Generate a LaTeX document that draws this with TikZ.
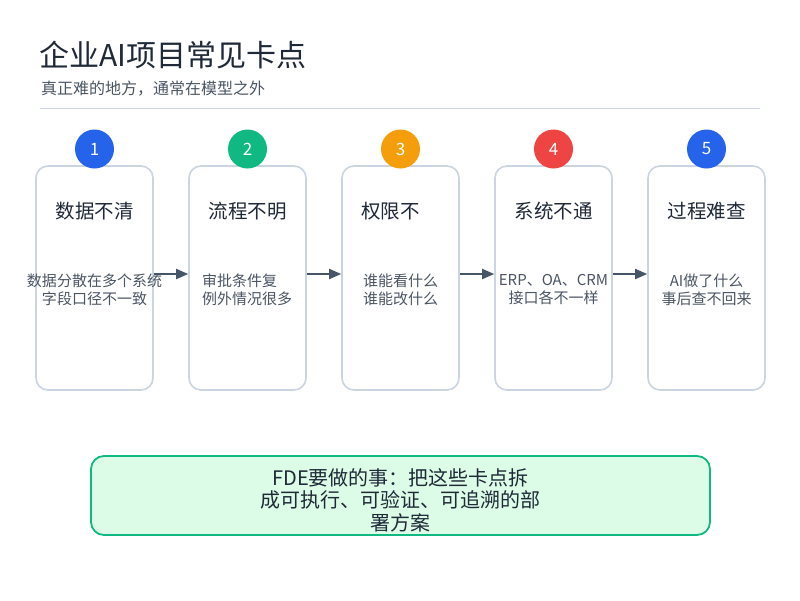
\documentclass[tikz,border=0pt]{standalone}
\usepackage{fontspec}
\setmainfont{Noto Sans CJK SC}
\usetikzlibrary{arrows.meta}
\definecolor{ink}{HTML}{1F2937}
\definecolor{sub}{HTML}{4B5563}
\definecolor{rulec}{HTML}{CBD5E1}
\definecolor{arrc}{HTML}{475569}
\definecolor{cblue}{HTML}{2563EB}
\definecolor{cgreen}{HTML}{10B981}
\definecolor{corange}{HTML}{F59E0B}
\definecolor{cred}{HTML}{EF4444}
\definecolor{notefill}{HTML}{DCFCE7}
\tikzset{
  card/.style={draw=rulec, line width=1.6pt, rounded corners=12pt, fill=white,
    minimum width=117pt, minimum height=224pt, inner sep=0pt},
  badge/.style={circle, minimum size=39pt, inner sep=0pt, text=white,
    font=\fontsize{17}{20}\selectfont},
  ctitle/.style={text=ink, font=\fontsize{19.5}{22}\selectfont, inner sep=0pt},
  desc/.style={text=sub, font=\fontsize{15}{18}\selectfont, align=center, inner sep=0pt},
  arr/.style={draw=arrc, line width=1.8pt, -{Triangle[length=12pt,width=10pt]}},
  note/.style={draw=cgreen, fill=notefill, line width=1.8pt, rounded corners=13pt,
    minimum width=619pt, minimum height=79pt, inner sep=0pt},
  notetext/.style={align=center, text=ink, font=\fontsize{20}{22.5}\selectfont, inner sep=0pt},
}
\begin{document}
\begin{tikzpicture}[x=1pt,y=-1pt]
\useasboundingbox[fill=white] (0,0) rectangle (800,600);
% header
\node[anchor=west, text=ink, font=\fontsize{30}{34}\selectfont, inner sep=0pt] (title) at (39,55) {企业AI项目常见卡点};
\node[anchor=west, text=sub, font=\fontsize{16}{18}\selectfont, inner sep=0pt] (subtitle) at (41,89) {真正难的地方，通常在模型之外};
\draw[rulec, line width=1pt] (40,108) -- (760,108);
% cards
\node[card] (b1) at (94.5,278) {};
\node[card] (b2) at (247.5,278) {};
\node[card] (b3) at (400.5,278) {};
\node[card] (b4) at (553.5,278) {};
\node[card] (b5) at (706.5,278) {};
% arrows
\draw[arr] ([yshift=4pt]b1.east) -- ([yshift=4pt]b2.west);
\draw[arr] ([yshift=4pt]b2.east) -- ([yshift=4pt]b3.west);
\draw[arr] ([yshift=4pt]b3.east) -- ([yshift=4pt]b4.west);
\draw[arr] ([yshift=4pt]b4.east) -- ([yshift=4pt]b5.west);
% badges
\node[badge, fill=cblue] (n1) at (94.5,149) {1};
\node[badge, fill=cgreen] (n2) at (247.5,149) {2};
\node[badge, fill=corange] (n3) at (400.5,149) {3};
\node[badge, fill=cred] (n4) at (553.5,149) {4};
\node[badge, fill=cblue] (n5) at (706.5,149) {5};
% titles
\node[ctitle] (t1) at (94.5,211) {数据不清};
\node[ctitle] (t2) at (247.5,211) {流程不明};
\node[ctitle] (t3) at (390.5,211) {权限不};
\node[ctitle] (t4) at (553.5,211) {系统不通};
\node[ctitle] (t5) at (706.5,211) {过程难查};
% descriptions
\node[desc] (d1) at (94.5,290) {数据分散在多个系统\\字段口径不一致};
\node[desc, align=left, anchor=west] (d2) at (202,290) {审批条件复\\例外情况很多};
\node[desc] (d3) at (400.5,290) {谁能看什么\\谁能改什么};
\node[desc] (d4) at (553.5,290) {ERP、OA、CRM\\接口各不一样};
\node[desc] (d5) at (706.5,290) {AI做了什么\\事后查不回来};
% note
\node[note] (fde) at (400.5,495.5) {};
\node[notetext] (fdetext) at (400.5,500) {FDE要做的事：把这些卡点拆\\成可执行、可验证、可追溯的部\\署方案};
\end{tikzpicture}
\end{document}
